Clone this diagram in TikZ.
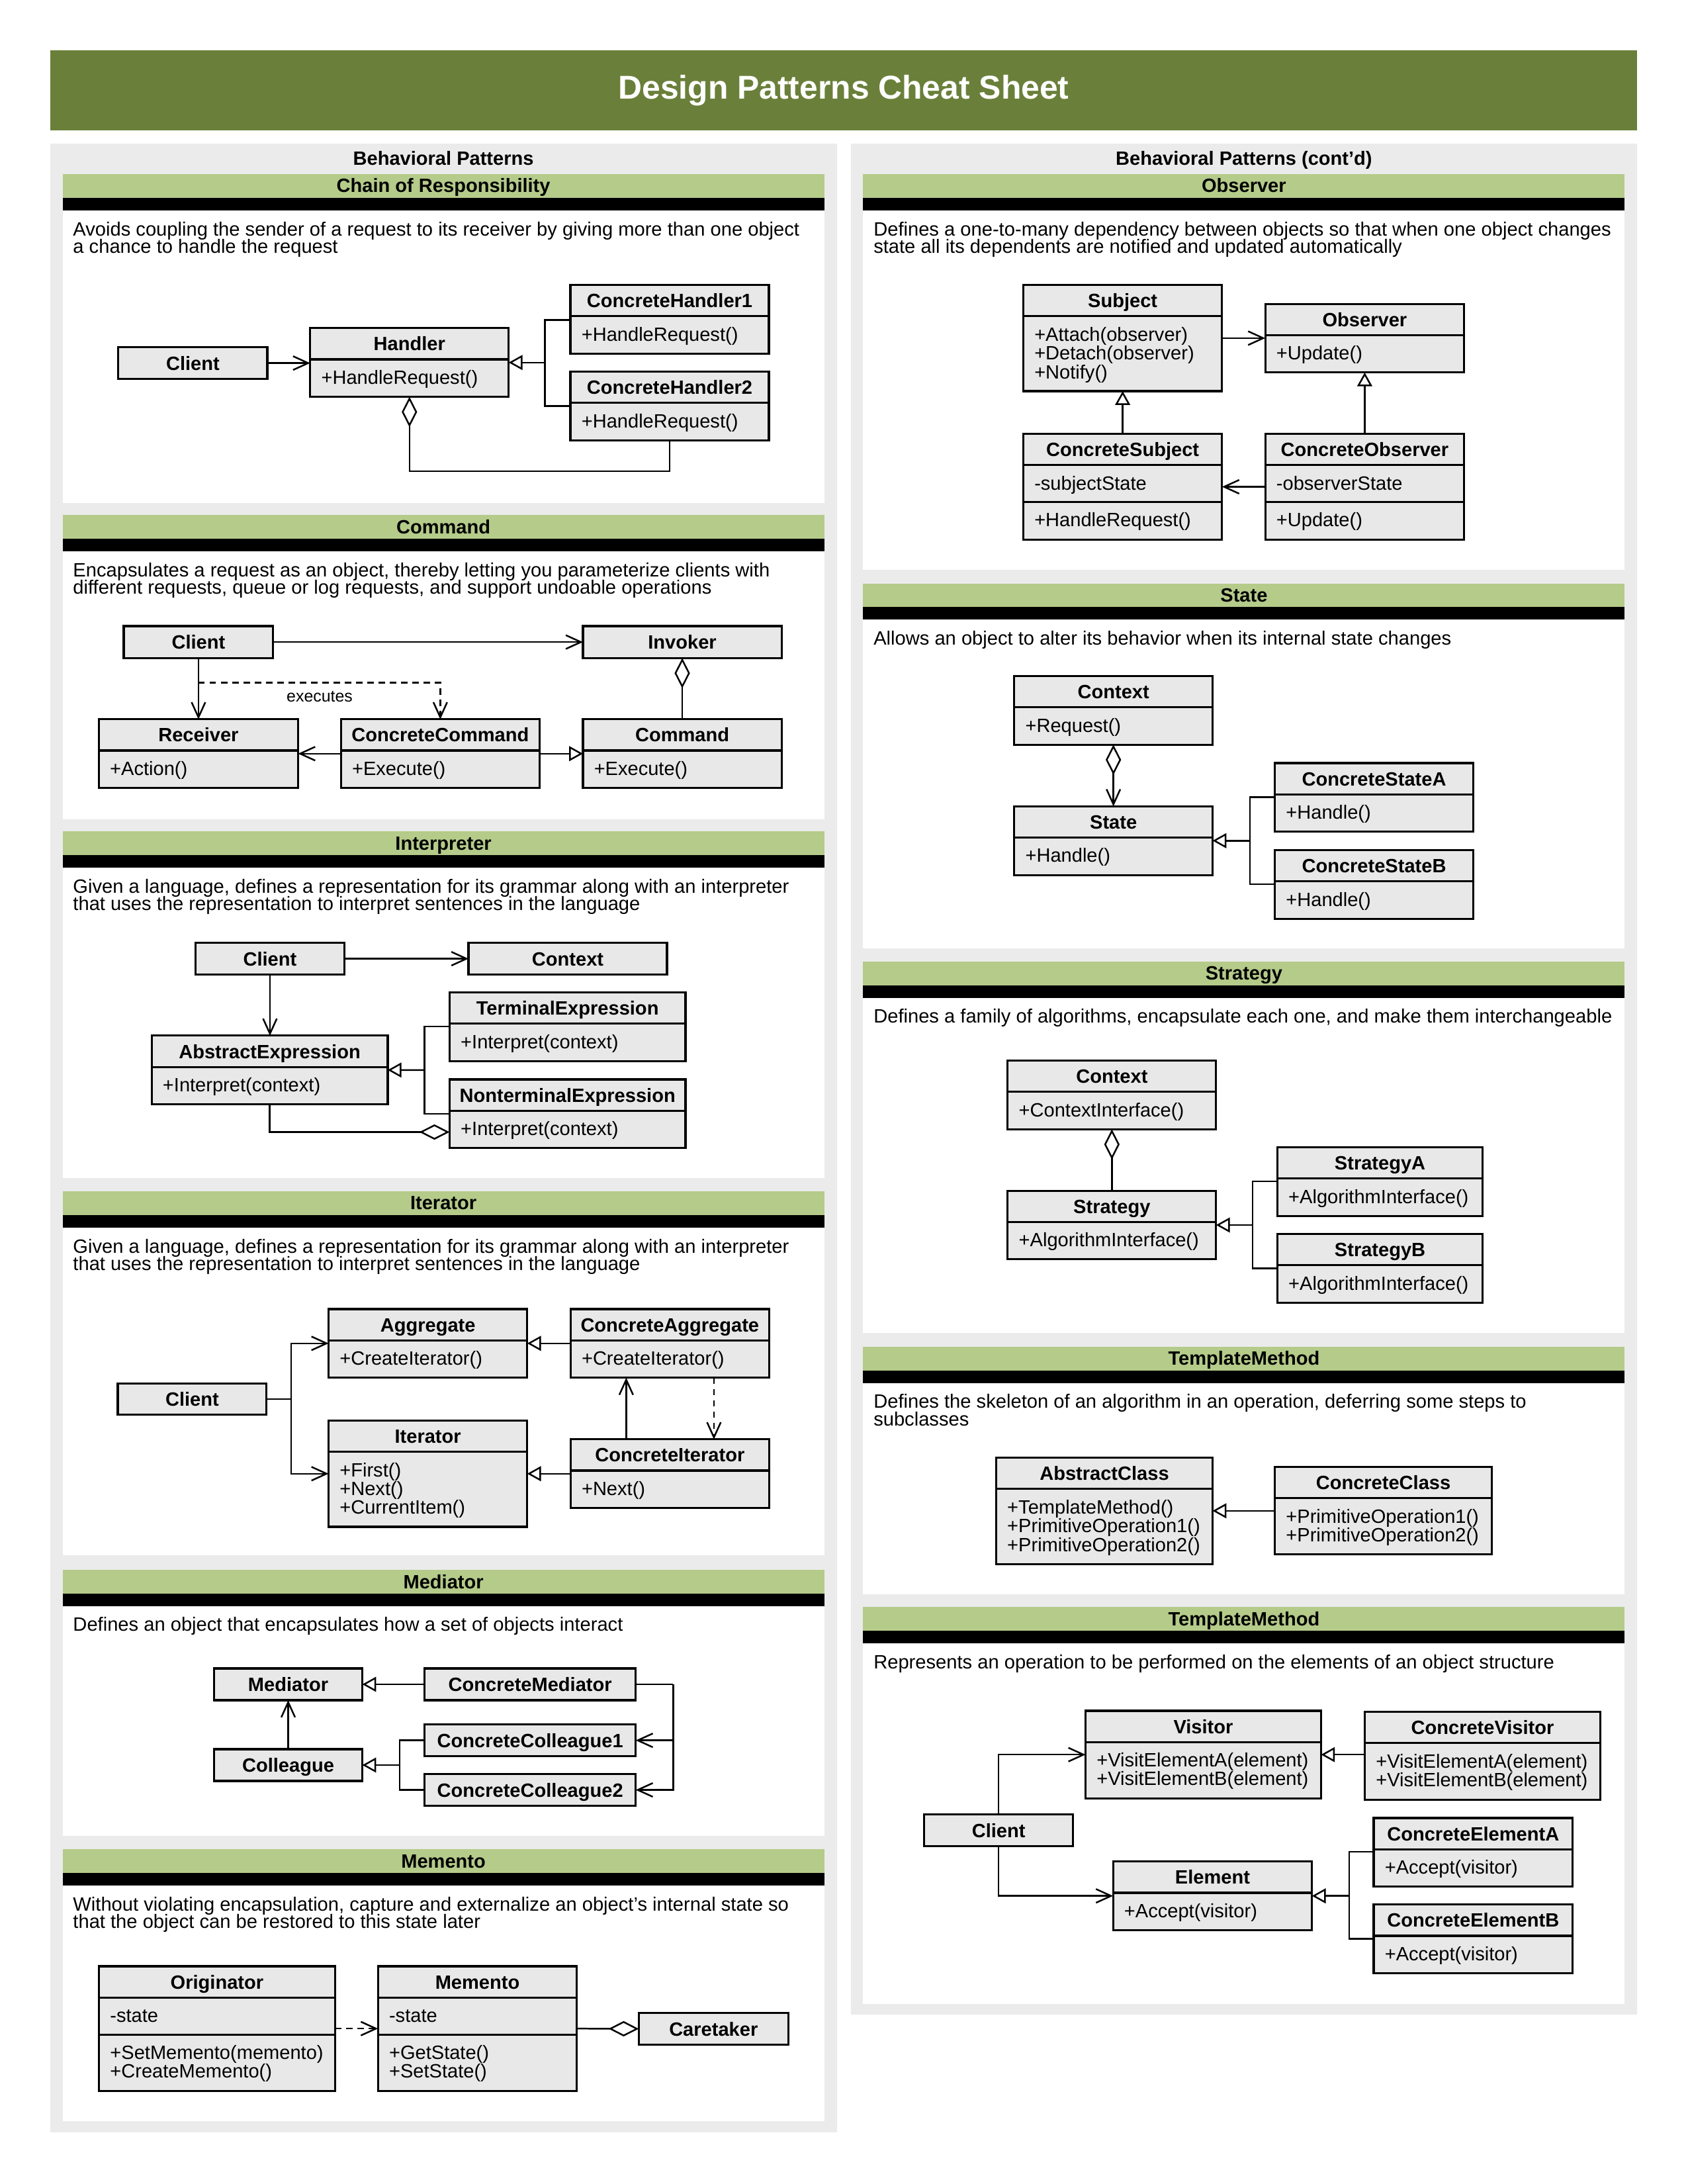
\documentclass[tikz,border=0pt]{standalone}
\usepackage{fontspec}
\setmainfont{Liberation Sans}
\usetikzlibrary{arrows.meta,fit}
\definecolor{titlegreen}{RGB}{106,128,58}
\definecolor{hdrgreen}{RGB}{181,203,138}
\definecolor{panelgray}{RGB}{235,235,235}
\definecolor{boxgray}{RGB}{232,232,232}
\newcommand\ftitle{\fontsize{12}{14}\selectfont\bfseries}
\newcommand\fhead{\fontsize{7}{8}\selectfont\bfseries}
\newcommand\fdesc{\fontsize{7.02}{7.5}\selectfont}
\newcommand\fcls{\fontsize{7}{8}\selectfont\bfseries}
\newcommand\fops{\fontsize{7}{8}\selectfont}
\newcommand\flbl{\fontsize{6}{7}\selectfont}

\tikzset{
  txt/.style={inner sep=0pt, outer sep=0pt},
  hdrtext/.style={txt, font=\fhead, anchor=base},
  desctext/.style={txt, font=\fdesc, anchor=base west},
  namesty/.style={txt, font=\fcls, anchor=base},
  opsty/.style={txt, font=\fops, anchor=base west},
  lbl/.style={txt, font=\flbl, anchor=base},
  boxnode/.style={draw=black, line width=0.75pt, fill=boxgray, inner sep=0pt, outer sep=0pt},
  sepline/.style={draw=black, line width=0.75pt},
  conn/.style={draw=black, line width=0.6pt},
  assoc/.style={conn, -{Straight Barb[length=5.5pt,width=5pt]}},
  inh/.style={conn, -{Triangle[length=5pt,width=5.4pt,fill=white]}},
  aggr/.style={conn, {Diamond[length=11pt,width=5.6pt,fill=white]}-},
  aggrend/.style={conn, -{Diamond[length=11pt,width=5.6pt,fill=white]}},
  dep/.style={conn, dash pattern=on 2.3pt off 1.8pt, -{Straight Barb[length=5.5pt,width=5pt]}},
}

% \umlsimple{name}{x1}{y1}{x2}{y2}{title}
\newcommand\umlsimple[6]{%
  \node[boxnode, fit={(#2,#3) (#4,#5)}] (#1) {};
  \node[namesty] (#1-t) at ({(#2+#4)/2},{(#3+#5)/2+5}) {#6};
}
% \umlclass{name}{x1}{y1}{x2}{y2}{title}{ops}
\newcommand\umlclass[7]{%
  \node[boxnode, fit={(#2,#3) (#4,#5)}] (#1) {};
  \draw[sepline] (#2,{#3+22.4}) -- (#4,{#3+22.4});
  \node[namesty] (#1-t) at ({(#2+#4)/2},{#3+16.2}) {#6};
  \foreach \opitem [count=\i] in {#7}
    \node[opsty] (#1-o\i) at ({#2+8},{#3+22.4+17.8+13.5*(\i-1)}) {\opitem};
}
% \umlclassii{name}{x1}{y1}{x2}{y2}{title}{attr}{ops}
\newcommand\umlclassii[8]{%
  \node[boxnode, fit={(#2,#3) (#4,#5)}] (#1) {};
  \draw[sepline] (#2,{#3+22.4}) -- (#4,{#3+22.4});
  \draw[sepline] (#2,{#3+49.1}) -- (#4,{#3+49.1});
  \node[namesty] (#1-t) at ({(#2+#4)/2},{#3+16.2}) {#6};
  \node[opsty] (#1-a) at ({#2+8},{#3+22.4+17.8}) {#7};
  \foreach \opitem [count=\i] in {#8}
    \node[opsty] (#1-o\i) at ({#2+8},{#3+49.1+17.6+13.5*(\i-1)}) {\opitem};
}
% \patsec{name}{x1}{x2}{ytop}{ybot}{title}
\newcommand\patsec[6]{%
  \fill[hdrgreen] (#2,#4) rectangle (#3,{#4+17});
  \fill[black] (#2,{#4+17}) rectangle (#3,{#4+26});
  \fill[white] (#2,{#4+26}) rectangle (#3,#5);
  \node[hdrtext] (#1) at ({(#2+#3)/2},{#4+13.3}) {#6};
}

\begin{document}
\begin{tikzpicture}[x=0.178135mm,y=-0.178135mm]
\useasboundingbox (0,0) rectangle (1212,1568.47);
\fill[white] (0,0) rectangle (1212,1568.47);

% title bar
\fill[titlegreen] (36,36) rectangle (1176,93.5);
\node[txt, font=\ftitle, text=white, anchor=base] (title) at (606,70.9) {Design Patterns Cheat Sheet};

% panels
\fill[panelgray] (36,103) rectangle (601,1531.5);
\fill[panelgray] (611,103) rectangle (1176,1447);
\node[hdrtext] (lefthead) at (318.5,118.8) {Behavioral Patterns};
\node[hdrtext] (righthead) at (893.5,118.8) {Behavioral Patterns (cont’d)};

% ---------------- sections, left column
\patsec{cor-h}{45}{592}{125}{361}{Chain of Responsibility}
\patsec{cmd-h}{45}{592}{370}{588.4}{Command}
\patsec{int-h}{45}{592}{597}{846}{Interpreter}
\patsec{it-h}{45}{592}{855.5}{1117}{Iterator}
\patsec{med-h}{45}{592}{1127.5}{1318.5}{Mediator}
\patsec{mem-h}{45}{592}{1328}{1523.5}{Memento}
% ---------------- sections, right column
\patsec{obs-h}{620}{1167}{125}{409}{Observer}
\patsec{st-h}{620}{1167}{419}{681}{State}
\patsec{sg-h}{620}{1167}{690.5}{957}{Strategy}
\patsec{tm-h}{620}{1167}{967.2}{1145}{TemplateMethod}
\patsec{vis-h}{620}{1167}{1154.1}{1439}{TemplateMethod}

% ---------------- descriptions
\node[desctext] (cor-d1) at (52.5,169.4) {Avoids coupling the sender of a request to its receiver by giving more than one object};
\node[desctext] (cor-d2) at (52.5,181.8) {a chance to handle the request};
\node[desctext] (cmd-d1) at (52.5,414.4) {Encapsulates a request as an object, thereby letting you parameterize clients with};
\node[desctext] (cmd-d2) at (52.5,426.8) {different requests, queue or log requests, and support undoable operations};
\node[desctext] (int-d1) at (52.5,641.4) {Given a language, defines a representation for its grammar along with an interpreter};
\node[desctext] (int-d2) at (52.5,653.8) {that uses the representation to interpret sentences in the language};
\node[desctext] (it-d1) at (52.5,899.9) {Given a language, defines a representation for its grammar along with an interpreter};
\node[desctext] (it-d2) at (52.5,912.3) {that uses the representation to interpret sentences in the language};
\node[desctext] (med-d1) at (52.5,1171.5) {Defines an object that encapsulates how a set of objects interact};
\node[desctext] (mem-d1) at (52.5,1372.2) {Without violating encapsulation, capture and externalize an object's internal state so};
\node[desctext] (mem-d2) at (52.5,1384.6) {that the object can be restored to this state later};
\node[desctext] (obs-d1) at (627.5,169.4) {Defines a one-to-many dependency between objects so that when one object changes};
\node[desctext] (obs-d2) at (627.5,181.8) {state all its dependents are notified and updated automatically};
\node[desctext] (st-d1) at (627.5,463.2) {Allows an object to alter its behavior when its internal state changes};
\node[desctext] (sg-d1) at (627.5,734.7) {Defines a family of algorithms, encapsulate each one, and make them interchangeable};
\node[desctext] (tm-d1) at (627.5,1011.4) {Defines the skeleton of an algorithm in an operation, deferring some steps to};
\node[desctext] (tm-d2) at (627.5,1023.8) {subclasses};
\node[desctext] (vis-d1) at (627.5,1198.3) {Represents an operation to be performed on the elements of an object structure};

% ================= Chain of Responsibility
\umlsimple{cor-client}{85}{249.5}{192}{272}{Client}
\umlclass{cor-handler}{222.8}{235.7}{365.4}{285}{Handler}{+HandleRequest()}
\umlclass{cor-ch1}{409.7}{204.6}{552.3}{253.9}{ConcreteHandler1}{+HandleRequest()}
\umlclass{cor-ch2}{409.7}{267}{552.3}{316.3}{ConcreteHandler2}{+HandleRequest()}
\draw[assoc] (cor-client.east) -- (cor-client.east -| cor-handler.west);
\coordinate (cor-j) at (391.5,260.35);
\coordinate (cor-a1) at (391.5,229.8);
\coordinate (cor-a2) at (391.5,291.5);
\draw[inh] (cor-j) -- (cor-handler.east);
\draw[conn] (cor-ch1.west |- cor-a1) -- (cor-a1) -- (cor-a2) -- (cor-ch2.west |- cor-a2);
\coordinate (cor-low) at (294.1,338.4);
\draw[aggr] (cor-handler.south) -- (cor-low) -| (cor-ch2.south);

% ================= Command
\umlsimple{cmd-client}{88.9}{449.6}{196.2}{472.6}{Client}
\umlsimple{cmd-invoker}{418.7}{449.6}{561.4}{472.6}{Invoker}
\umlclass{cmd-receiver}{71}{516.6}{214.1}{565.9}{Receiver}{+Action()}
\umlclass{cmd-cc}{244.9}{516.6}{387.6}{565.9}{ConcreteCommand}{+Execute()}
\umlclass{cmd-command}{418.7}{516.6}{561.4}{565.9}{Command}{+Execute()}
\draw[assoc] (cmd-client.east) -- (cmd-invoker.west);
\draw[assoc] (cmd-client.south) -- (cmd-client.south |- cmd-receiver.north);
\coordinate (cmd-dash) at (142.55,490.2);
\draw[dep] (cmd-dash) -| (cmd-cc.north);
\node[lbl] (cmd-lbl) at (229.6,504.1) {executes};
\draw[assoc] (cmd-cc.west) -- (cmd-receiver.east);
\draw[inh] (cmd-cc.east) -- (cmd-command.west);
\draw[aggr] (cmd-invoker.south) -- (cmd-command.north);

% ================= Interpreter
\umlsimple{int-client}{140.4}{677}{247.4}{700}{Client}
\umlsimple{int-context}{336.5}{677}{479.1}{700}{Context}
\umlclass{int-te}{322.9}{712.8}{492.4}{762.1}{TerminalExpression}{+Interpret(context)}
\umlclass{int-nte}{322.9}{775.2}{492.4}{824.5}{NonterminalExpression}{+Interpret(context)}
\umlclass{int-ae}{108.9}{743.8}{278.5}{793.1}{AbstractExpression}{+Interpret(context)}
\draw[assoc] (int-client.east) -- (int-context.west);
\draw[assoc] (int-client.south) -- (int-client.south |- int-ae.north);
\coordinate (int-j) at (305,768.45);
\coordinate (int-a1) at (305,737.1);
\coordinate (int-a2) at (305,799.8);
\draw[inh] (int-j) -- (int-ae.east);
\draw[conn] (int-te.west |- int-a1) -- (int-a1) -- (int-a2) -- (int-nte.west |- int-a2);
\coordinate (int-low) at (193.7,813);
\draw[aggrend] (int-ae.south) -- (int-low) -- (int-low -| int-nte.west);

% ================= Iterator
\umlclass{it-agg}{236}{940.1}{378.7}{989.4}{Aggregate}{+CreateIterator()}
\umlclass{it-ca}{409.8}{940.1}{552.5}{989.4}{ConcreteAggregate}{+CreateIterator()}
\umlsimple{it-client}{84.6}{993.4}{191.5}{1016}{Client}
\umlclass{it-it}{236}{1020.2}{378.7}{1096.5}{Iterator}{+First(),+Next(),+CurrentItem()}
\umlclass{it-ci}{409.8}{1033.7}{552.5}{1083}{ConcreteIterator}{+Next()}
\coordinate (it-j) at (209.1,1004.7);
\draw[conn] (it-client.east) -- (it-j);
\draw[assoc] (it-j) |- (it-agg.west);
\draw[assoc] (it-j) |- (it-it.west);
\draw[inh] (it-ca.west) -- (it-agg.east);
\draw[inh] (it-ci.west) -- (it-ci.west -| it-it.east);
\coordinate (it-ux) at (449.8,1010);
\coordinate (it-dx) at (512.8,1010);
\draw[assoc] (it-ci.north -| it-ux) -- (it-ca.south -| it-ux);
\draw[dep] (it-ca.south -| it-dx) -- (it-ci.north -| it-dx);

% ================= Mediator
\umlsimple{med-med}{153.7}{1198.2}{260.3}{1221}{Mediator}
\umlsimple{med-cm}{305}{1198.2}{456.6}{1221}{ConcreteMediator}
\umlsimple{med-col}{153.7}{1256.2}{260.3}{1279}{Colleague}
\umlsimple{med-cc1}{305}{1238.4}{456.6}{1261.3}{ConcreteColleague1}
\umlsimple{med-cc2}{305}{1274}{456.6}{1296.9}{ConcreteColleague2}
\draw[inh] (med-cm.west) -- (med-med.east);
\draw[assoc] (med-col.north) -- (med-med.south);
\coordinate (med-j) at (287.1,1267.6);
\draw[inh] (med-j) -- (med-col.east);
\draw[conn] (med-cc1.west) -| (med-j);
\draw[conn] (med-cc2.west) -| (med-j);
\coordinate (med-k) at (483.5,1209.6);
\draw[conn] (med-cm.east) -- (med-k);
\draw[assoc] (med-k) |- (med-cc1.east);
\draw[assoc] (med-k) |- (med-cc2.east);

% ================= Memento
\umlclassii{mem-orig}{71.1}{1412.1}{240.6}{1501.6}{Originator}{-state}{+SetMemento(memento),+CreateMemento()}
\umlclassii{mem-mem}{271.5}{1412.1}{414.4}{1501.6}{Memento}{-state}{+GetState(),+SetState()}
\umlsimple{mem-care}{458.8}{1445.7}{566.2}{1468.3}{Caretaker}
\draw[dep] (mem-orig.east) -- (mem-mem.west);
\draw[aggrend] (mem-mem.east) -- (mem-care.west);

% ================= Observer
\umlclass{obs-subj}{735}{204.7}{877.8}{280.9}{Subject}{+Attach(observer),+Detach(observer),+Notify()}
\umlclass{obs-obs}{908.8}{218.2}{1051.7}{267.5}{Observer}{+Update()}
\umlclassii{obs-cs}{735}{311.6}{877.8}{387.6}{ConcreteSubject}{-subjectState}{+HandleRequest()}
\umlclassii{obs-co}{908.8}{311.6}{1051.7}{387.6}{ConcreteObserver}{-observerState}{+Update()}
\draw[assoc] (obs-subj.east |- obs-obs.west) -- (obs-obs.west);
\draw[inh] (obs-cs.north) -- (obs-subj.south);
\draw[inh] (obs-co.north) -- (obs-obs.south);
\draw[assoc] (obs-co.west) -- (obs-cs.east);

% ================= State
\umlclass{st-ctx}{728.5}{485.5}{871}{534.8}{Context}{+Request()}
\umlclass{st-state}{728.5}{579.1}{871}{628.4}{State}{+Handle()}
\umlclass{st-a}{915.7}{548}{1058.2}{597.3}{ConcreteStateA}{+Handle()}
\umlclass{st-b}{915.7}{610.5}{1058.2}{659.8}{ConcreteStateB}{+Handle()}
\draw[conn, {Diamond[length=11pt,width=5.6pt,fill=white]}-{Straight Barb[length=5.5pt,width=5pt]}] (st-ctx.south) -- (st-state.north);
\coordinate (st-j) at (897.7,603.75);
\coordinate (st-a1) at (897.7,572.4);
\coordinate (st-a2) at (897.7,635);
\draw[inh] (st-j) -- (st-state.east);
\draw[conn] (st-a.west |- st-a1) -- (st-a1) -- (st-a2) -- (st-b.west |- st-a2);

% ================= Strategy
\umlclass{sg-ctx}{723.8}{761.7}{873.5}{811}{Context}{+ContextInterface()}
\umlclass{sg-str}{723.8}{855.1}{873.5}{904.4}{Strategy}{+AlgorithmInterface()}
\umlclass{sg-a}{917.5}{824}{1065}{873.3}{StrategyA}{+AlgorithmInterface()}
\umlclass{sg-b}{917.5}{886.3}{1065}{935.6}{StrategyB}{+AlgorithmInterface()}
\draw[aggr] (sg-ctx.south) -- (sg-str.north);
\coordinate (sg-j) at (899.8,879.75);
\coordinate (sg-a1) at (899.8,848.5);
\coordinate (sg-a2) at (899.8,910.8);
\draw[inh] (sg-j) -- (sg-str.east);
\draw[conn] (sg-a.west |- sg-a1) -- (sg-a1) -- (sg-a2) -- (sg-b.west |- sg-a2);

% ================= TemplateMethod
\umlclass{tm-ac}{715.5}{1046.9}{871}{1123.2}{AbstractClass}{+TemplateMethod(),+PrimitiveOperation1(),+PrimitiveOperation2()}
\umlclass{tm-cc}{915.7}{1053.6}{1071.5}{1116.4}{ConcreteClass}{+PrimitiveOperation1(),+PrimitiveOperation2()}
\draw[inh] (tm-cc.west) -- (tm-cc.west -| tm-ac.east);

% ================= Visitor
\umlclass{vis-v}{779.7}{1228.6}{948.9}{1291.6}{Visitor}{+VisitElementA(element),+VisitElementB(element)}
\umlclass{vis-cv}{980.3}{1229.4}{1149.5}{1292.4}{ConcreteVisitor}{+VisitElementA(element),+VisitElementB(element)}
\umlsimple{vis-client}{663.9}{1303}{770.7}{1325.8}{Client}
\umlclass{vis-e}{799.5}{1336.9}{942.4}{1386.2}{Element}{+Accept(visitor)}
\umlclass{vis-cea}{986.7}{1305.6}{1129.6}{1354.9}{ConcreteElementA}{+Accept(visitor)}
\umlclass{vis-ceb}{986.7}{1367.8}{1129.6}{1417.1}{ConcreteElementB}{+Accept(visitor)}
\draw[assoc] (vis-client.north) |- (vis-v.west);
\draw[assoc] (vis-client.south) |- (vis-e.west);
\draw[inh] (vis-cv.west |- vis-v.east) -- (vis-v.east);
\coordinate (vis-j) at (969.1,1361.55);
\coordinate (vis-a1) at (969.1,1329.8);
\coordinate (vis-a2) at (969.1,1392.3);
\draw[inh] (vis-j) -- (vis-e.east);
\draw[conn] (vis-cea.west |- vis-a1) -- (vis-a1) -- (vis-a2) -- (vis-ceb.west |- vis-a2);

\end{tikzpicture}
\end{document}
